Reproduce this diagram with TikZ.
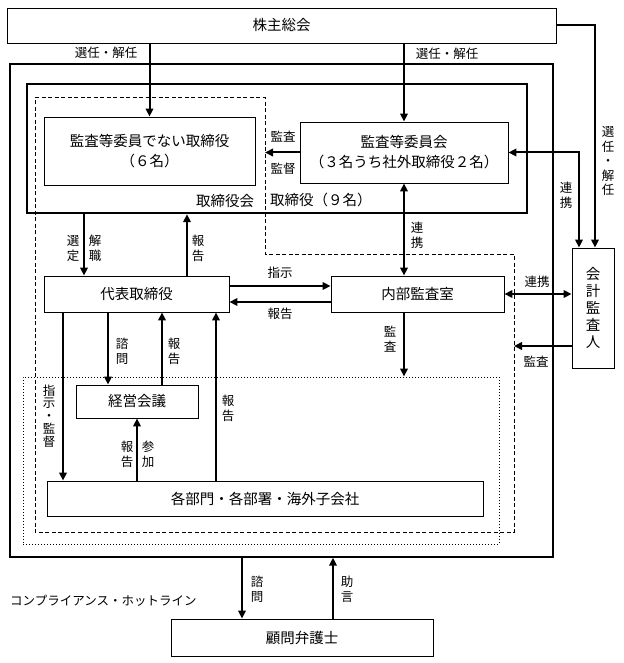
\documentclass[tikz,border=0pt]{standalone}
\usepackage{fontspec}
\setmainfont{Noto Sans CJK JP}
\usetikzlibrary{arrows.meta, positioning, calc}

\tikzset{
  box/.style={draw, line width=0.9pt, inner sep=2pt, align=center,
    font=\fontsize{14.5}{20}\selectfont},
  frame/.style={draw, inner sep=0pt},
  arr/.style={line width=2pt, -{Triangle[length=8pt,width=7.5pt]}},
  darr/.style={line width=2pt, {Triangle[length=8pt,width=7.5pt]}-{Triangle[length=8pt,width=7.5pt]}},
  lbl/.style={inner sep=0pt, font=\fontsize{12.5}{15}\selectfont},
  vlbl/.style={lbl, align=center},
  big/.style={inner sep=0pt, font=\fontsize{14.5}{17}\selectfont}
}

\begin{document}
\begin{tikzpicture}[x=1pt, y=-1pt]
  \useasboundingbox (0,0) rectangle (623,663);

  % Shareholders meeting
  \node[box, minimum width=549pt, minimum height=35pt] (gm) at (281.5,25.5) {株主総会};

  % Company frame and board
  \node[frame, line width=1.3pt, minimum width=543pt, minimum height=493pt] (company) at (281.5,310.5) {};
  \node[frame, line width=2.4pt, minimum width=500pt, minimum height=129pt] (board) at (277,148.5) {};

  % Dashed area (board meeting)
  \coordinate (dTL) at (35,98);
  \coordinate (dTR) at (265,98);
  \coordinate (dMid) at (265,254);
  \coordinate (dMR) at (514,254);
  \coordinate (dBR) at (514,532);
  \coordinate (dBL) at (35,532);
  \draw[dashed, line width=1pt, dash pattern=on 4pt off 2.5pt]
    (dTL) -- (dTR) -- (dMid) -- (dMR) -- (dBR) -- (dBL) -- cycle;

  % Dotted area (execution)
  \node[frame, dotted, line width=1pt, minimum width=476pt, minimum height=167pt] (exec) at (261,460.5) {};

  % Boxes
  \node[box, minimum width=211pt, minimum height=68pt] (nonaudit) at (149.5,151) {監査等委員でない取締役\\（６名）};
  \node[box, minimum width=208pt, minimum height=61pt] (auditcom) at (404,152.5) {監査等委員会\\（３名うち社外取締役２名）};
  \node[box, minimum width=42pt, minimum height=120pt, font=\fontsize{14.5}{17}\selectfont] (kaikei) at (593,308) {会\\計\\監\\査\\人};
  \node[box, minimum width=185pt, minimum height=36pt] (ceo) at (136.5,294) {代表取締役};
  \node[box, minimum width=173pt, minimum height=36pt] (internal) at (417.5,294) {内部監査室};
  \node[box, minimum width=122pt, minimum height=33pt] (keiei) at (137,401.5) {経営会議};
  \node[box, minimum width=436pt, minimum height=35pt] (depts) at (265,498.5) {各部門・各部署・海外子会社};
  \node[box, minimum width=262pt, minimum height=37pt] (lawyer) at (302,637.5) {顧問弁護士};

  % Arrows from shareholders meeting
  \draw[arr] (gm.south -| nonaudit.north) -- (nonaudit.north);
  \draw[arr] (gm.south -| auditcom.north) -- (auditcom.north);
  \draw[arr] (gm.east) -| ([xshift=2pt]kaikei.north);
  \draw[darr] (auditcom.east) -| ([xshift=-14pt]kaikei.north);

  % Audit committee
  \draw[arr] (auditcom.west) -- (auditcom.west -| dTR);
  \draw[darr] (auditcom.south) -- (auditcom.south |- internal.north);

  % Board and CEO
  \draw[arr] (board.south -| 84,0) -- (ceo.north -| 84,0);
  \draw[arr] (ceo.north -| 187,0) -- (board.south -| 187,0);
  \draw[arr] (ceo.east |- 0,286) -- (internal.west |- 0,286);
  \draw[arr] (internal.west |- 0,302) -- (ceo.east |- 0,302);

  % Internal audit and accounting auditor
  \draw[darr] (internal.east) -- (kaikei.west |- internal.east);
  \draw[arr] (kaikei.west |- 0,346) -- (dBR |- 0,346);
  \draw[arr] (internal.south -| auditcom.south) -- (exec.north -| auditcom.south);

  % CEO and departments
  \draw[arr] (ceo.south -| 63,0) -- (depts.north -| 63,0);
  \draw[arr] (ceo.south -| 108,0) -- (keiei.north -| 108,0);
  \draw[arr] (keiei.north -| 162,0) -- (ceo.south -| 162,0);
  \draw[arr] (depts.north -| 216,0) -- (ceo.south -| 216,0);
  \draw[arr] (depts.north -| keiei.south) -- (keiei.south);

  % Lawyer
  \draw[arr] (company.south -| 242,0) -- (lawyer.north -| 242,0);
  \draw[arr] (lawyer.north -| 333,0) -- (company.south -| 333,0);

  % Labels
  \node[lbl] (l1) at (106,53) {選任・解任};
  \node[lbl] (l2) at (447,54) {選任・解任};
  \node[vlbl, font=\fontsize{12.5}{14.5}\selectfont] (l3) at (608,161) {選\\任\\・\\解\\任};
  \node[lbl] (l4) at (283,137) {監査};
  \node[lbl] (l5) at (283,169) {監督};
  \node[big] (l6) at (225,201) {取締役会};
  \node[big, anchor=west] (l7) at (270,200) {取締役（９名）};
  \node[vlbl] (l8) at (566,195) {連\\携};
  \node[vlbl] (l9) at (417,235) {連\\携};
  \node[vlbl] (l10) at (73,248) {選\\定};
  \node[vlbl] (l11) at (95,248) {解\\職};
  \node[vlbl] (l12) at (198,248) {報\\告};
  \node[lbl] (l13) at (280,273) {指示};
  \node[lbl] (l14) at (280,314) {報告};
  \node[lbl] (l15) at (537,282) {連携};
  \node[lbl] (l16) at (536,362) {監査};
  \node[vlbl] (l17) at (390,339) {監\\査};
  \node[vlbl] (l18) at (122,351) {諮\\問};
  \node[vlbl] (l19) at (174,351) {報\\告};
  \node[vlbl] (l20) at (228,408) {報\\告};
  \node[vlbl, font=\fontsize{12.5}{12.8}\selectfont] (l21) at (49,416) {指\\示\\・\\監\\督};
  \node[vlbl] (l22) at (127,454) {報\\告};
  \node[vlbl] (l23) at (148,454) {参\\加};
  \node[vlbl] (l24) at (257,589) {諮\\問};
  \node[vlbl] (l25) at (347,589) {助\\言};
  \node[lbl, anchor=west] (l26) at (10,601) {コンプライアンス・ホットライン};
\end{tikzpicture}
\end{document}
